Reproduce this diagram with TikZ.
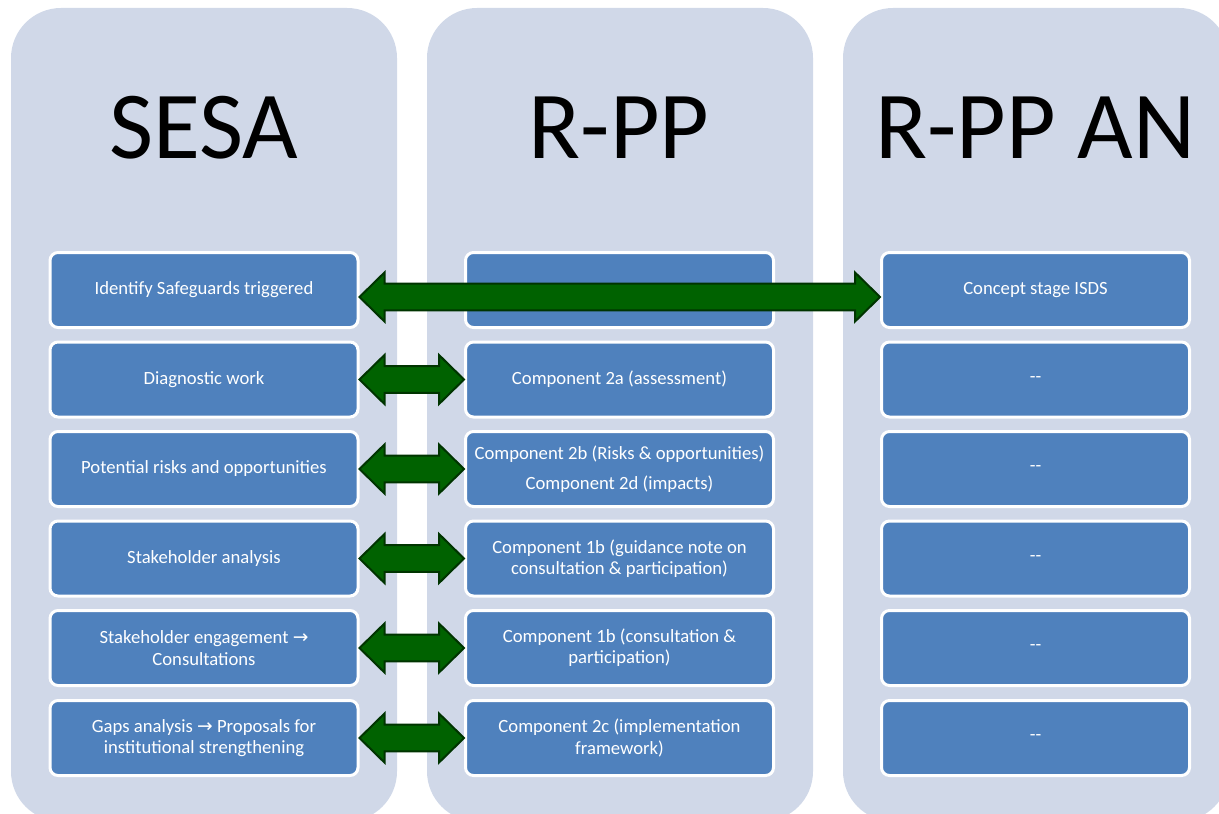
\documentclass[tikz,border=0pt]{standalone}
\usepackage{fontspec}
\setmainfont{Carlito}
\newfontfamily\arrfont{DejaVu Sans}
\usetikzlibrary{calc}
\definecolor{colbg}{RGB}{208,216,232}
\definecolor{boxblue}{RGB}{79,129,189}
\definecolor{agreen}{RGB}{0,98,0}
\definecolor{adark}{RGB}{0,52,0}
\tikzset{
  column/.style={fill=colbg, rounded corners=37.5pt, minimum width=289.5pt,
    minimum height=610pt, anchor=north west, inner sep=0pt, outer sep=0pt},
  header/.style={anchor=base, font=\fontsize{72}{80}\selectfont, text=black, inner sep=0pt},
  box/.style={fill=boxblue, draw=white, line width=2.25pt, rounded corners=6pt,
    minimum width=231pt, minimum height=56.25pt, inner sep=2pt,
    text=white, align=center, font=\fontsize{14}{16}\selectfont},
  garrow/.style={fill=agreen, draw=adark, line width=1.5pt, line join=miter}
}
\newcommand\dblarrow[3]{%
  \draw[garrow] let \p1=(#1.east), \p2=(#2.west) in
    (\x1,\y1+#3) -- (\x1+18.75pt,\y1+#3+18.4pt) -- (\x1+18.75pt,\y1+#3+10.1pt)
    -- (\x2-18.75pt,\y1+#3+10.1pt) -- (\x2-18.75pt,\y1+#3+18.4pt) -- (\x2,\y1+#3)
    -- (\x2-18.75pt,\y1+#3-18.4pt) -- (\x2-18.75pt,\y1+#3-10.1pt)
    -- (\x1+18.75pt,\y1+#3-10.1pt) -- (\x1+18.75pt,\y1+#3-18.4pt) -- cycle;}
\newcommand\ra{{\arrfont →}}
\begin{document}
\begin{tikzpicture}[x=0.75pt,y=-0.75pt]
\useasboundingbox (0,0) rectangle (1219,813);
\clip (0,0) rectangle (1219,813);
% columns
\node[column] (col1) at (11,8) {};
\node[column] (col2) at (427,8) {};
\node[column] (col3) at (843,8) {};
% headers
\node[header] (h1) at (204,158) {SESA};
\node[header] (h2) at (619,158) {R-PP};
\node[header] (h3) at (1035,158) {R-PP AN};
% column 1 boxes
\node[box] (a1) at (204,290) {Identify Safeguards triggered};
\node[box] (a2) at (204,379.5) {Diagnostic work};
\node[box] (a3) at (204,469) {Potential risks and opportunities};
\node[box] (a4) at (204,558.5) {Stakeholder analysis};
\node[box] (a5) at (204,648) {Stakeholder engagement \ra\\Consultations};
\node[box] (a6) at (204,738) {Gaps analysis \ra\ Proposals for\\institutional strengthening};
% column 2 boxes
\node[box] (b1) at (619.5,290) {};
\node[box] (b2) at (619.5,379.5) {Component 2a (assessment)};
\node[box] (b3) at (619.5,469) {Component 2b (Risks \& opportunities)\\[6.5pt]Component 2d (impacts)};
\node[box] (b4) at (619.5,558.5) {Component 1b (guidance note on\\consultation \& participation)};
\node[box] (b5) at (619.5,648) {Component 1b (consultation \&\\participation)};
\node[box] (b6) at (619.5,738) {Component 2c (implementation\\framework)};
% column 3 boxes
\node[box] (c1) at (1035.5,290) {Concept stage ISDS};
\node[box] (c2) at (1035.5,379.5) {-{}-};
\node[box] (c3) at (1035.5,469) {-{}-};
\node[box] (c4) at (1035.5,558.5) {-{}-};
\node[box] (c5) at (1035.5,648) {-{}-};
\node[box] (c6) at (1035.5,738) {-{}-};
% arrows
\dblarrow{a1}{c1}{-5.25pt}
\dblarrow{a2}{b2}{0pt}
\dblarrow{a3}{b3}{0pt}
\dblarrow{a4}{b4}{0pt}
\dblarrow{a5}{b5}{0pt}
\dblarrow{a6}{b6}{0pt}
\end{tikzpicture}
\end{document}
